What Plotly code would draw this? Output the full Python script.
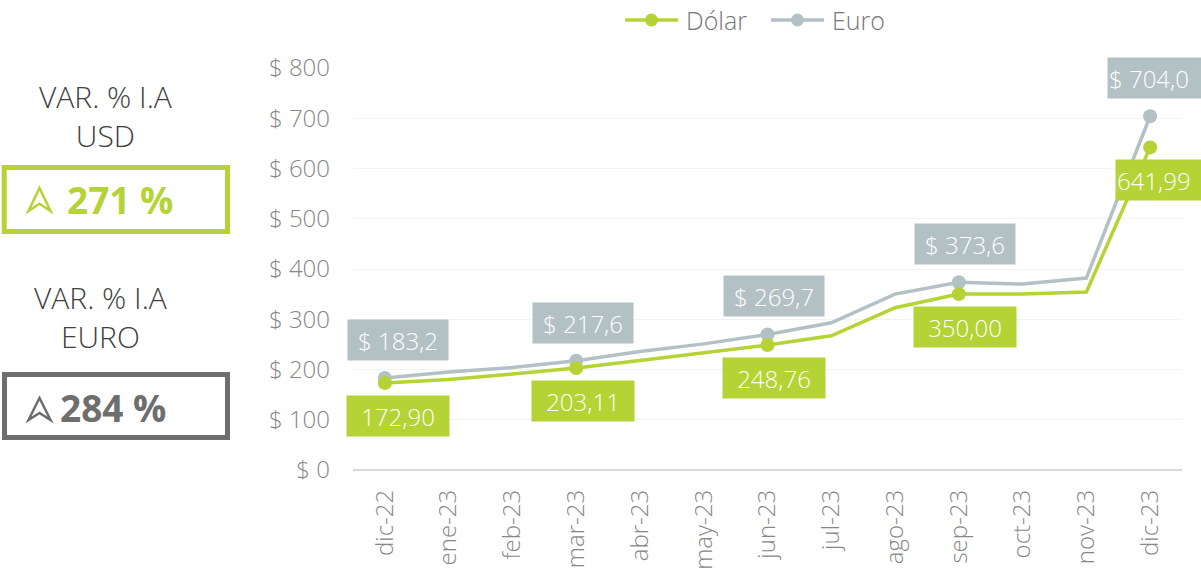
import plotly.graph_objects as go

# ---- data ----
months = ["dic-22", "ene-23", "feb-23", "mar-23", "abr-23", "may-23", "jun-23",
          "jul-23", "ago-23", "sep-23", "oct-23", "nov-23", "dic-23"]
dolar = [172.90, 180, 191, 203.11, 218, 233, 248.76, 267, 323, 350.00, 350, 354, 641.99]
euro = [183.2, 195, 204, 217.6, 236, 251, 269.7, 293, 350, 373.6, 370, 382, 704.0]
label_idx = [0, 3, 6, 9, 12]
dolar_labels = ["172,90", "203,11", "248,76", "350,00", "641,99"]
euro_labels = ["$ 183,2", "$ 217,6", "$ 269,7", "$ 373,6", "$ 704,0"]
y_ticks = [0, 100, 200, 300, 400, 500, 600, 700, 800]
series_names = ["Dólar", "Euro"]
var_usd = "271 %"
var_eur = "284 %"

GREEN = "#B5D334"
GREY = "#B3C1C5"
DARK = "#6E6E6E"
FONT = "Open Sans"

W, H = 1201, 572
L, R, T, B = 353, 19, 68, 102
PW, PH = W - L - R, H - T - B


def px(x):
    return (x - L) / PW


def py(y):
    return (H - B - y) / PH


fig = go.Figure()
fig.add_trace(go.Scatter(x=months, y=dolar, name=series_names[0], mode="lines",
                         line=dict(color=GREEN, width=3.5), showlegend=False))
fig.add_trace(go.Scatter(x=months, y=euro, name=series_names[1], mode="lines",
                         line=dict(color=GREY, width=3.5), showlegend=False))
# markers at labelled points
fig.add_trace(go.Scatter(x=[months[i] for i in label_idx], y=[euro[i] for i in label_idx],
                         mode="markers", marker=dict(color=GREY, size=14), showlegend=False))
fig.add_trace(go.Scatter(x=[months[i] for i in label_idx], y=[dolar[i] for i in label_idx],
                         mode="markers", marker=dict(color=GREEN, size=14), showlegend=False))

annotations = []
xshifts = [13, 7, 6, 6]
for k, i in enumerate(label_idx):
    last = (k == len(label_idx) - 1)
    e = dict(x=months[i], y=euro[i], text=euro_labels[k], showarrow=False,
             yshift=38, bgcolor=GREY, width=98, height=38,
             font=dict(family=FONT, size=24, color="white", weight=300))
    d = dict(x=months[i], y=dolar[i], text=dolar_labels[k], showarrow=False,
             yshift=-33, bgcolor=GREEN, width=100, height=38,
             font=dict(family=FONT, size=24, color="white", weight=300))
    if last:
        e.update(xanchor="left", xshift=-43, align="left", width=110)
        d.update(xanchor="left", xshift=-35, align="left", width=100)
    else:
        e.update(xshift=xshifts[k])
        d.update(xshift=xshifts[k])
    annotations += [e, d]

# legend (drawn manually to match symbol length)
legend_items = [(series_names[0], GREEN, 625, 684), (series_names[1], GREY, 771, 830)]
shapes = []
for name, col, x0, xt in legend_items:
    shapes.append(dict(type="line", xref="paper", yref="paper", x0=px(x0), x1=px(x0 + 53),
                       y0=py(20), y1=py(20), line=dict(color=col, width=3.5)))
    shapes.append(dict(type="circle", xref="paper", yref="paper",
                       x0=px(x0 + 20), x1=px(x0 + 33), y0=py(26.5), y1=py(13.5),
                       fillcolor=col, line=dict(color=col, width=0)))
    annotations.append(dict(xref="paper", yref="paper", x=px(xt), y=py(20), text=name,
                            showarrow=False, xanchor="left", yanchor="middle",
                            font=dict(family=FONT, size=25, color="#767676", weight=300)))

# left-side panels
annotations += [
    dict(xref="paper", yref="paper", x=px(106), y=py(116), text="VAR. % I.A<br>USD",
         showarrow=False, xanchor="center", yanchor="middle", align="center",
         font=dict(family=FONT, size=30, color="#3F3F3F", weight=300)),
    dict(xref="paper", yref="paper", x=px(100), y=py(317), text="VAR. % I.A<br>EURO",
         showarrow=False, xanchor="center", yanchor="middle", align="center",
         font=dict(family=FONT, size=30, color="#3F3F3F", weight=300)),
    dict(xref="paper", yref="paper", x=px(65), y=py(200), text=f"<b>{var_usd}</b>",
         showarrow=False, xanchor="left", yanchor="middle",
         font=dict(family=FONT, size=37, color=GREEN)),
    dict(xref="paper", yref="paper", x=px(58), y=py(407), text=f"<b>{var_eur}</b>",
         showarrow=False, xanchor="left", yanchor="middle",
         font=dict(family=FONT, size=37, color=DARK)),
]


def arrow_path(cx, top, bottom, half):
    notch = top + (bottom - top) * 0.68
    return (f"M {px(cx)} {py(top)} L {px(cx + half)} {py(bottom)} "
            f"L {px(cx)} {py(notch)} L {px(cx - half)} {py(bottom)} Z")


shapes += [
    dict(type="rect", xref="paper", yref="paper", x0=px(4.2), x1=px(227.5),
         y0=py(167.5), y1=py(231.5), line=dict(color=GREEN, width=5)),
    dict(type="rect", xref="paper", yref="paper", x0=px(4.5), x1=px(227.5),
         y0=py(374.5), y1=py(437.5), line=dict(color=DARK, width=5)),
    dict(type="path", xref="paper", yref="paper", path=arrow_path(39.5, 188, 211, 11),
         line=dict(color=GREEN, width=2.5), fillcolor="rgba(0,0,0,0)"),
    dict(type="path", xref="paper", yref="paper", path=arrow_path(39.5, 398, 420, 11),
         line=dict(color=DARK, width=2.5), fillcolor="rgba(0,0,0,0)"),
]

fig.update_layout(
    width=W, height=H, margin=dict(l=L, r=R, t=T, b=B, autoexpand=False),
    paper_bgcolor="white", plot_bgcolor="white",
    font=dict(family=FONT, size=24, color="#878787"),
    showlegend=False,
    annotations=annotations, shapes=shapes,
    xaxis=dict(type="category", categoryorder="array", categoryarray=months,
               range=[-0.5, len(months) - 0.5], tickangle=-90,
               showgrid=False, showline=False, zeroline=False, ticks="",
               ticklabelstandoff=14,
               tickfont=dict(family=FONT, size=24, color="#878787", weight=300)),
    yaxis=dict(range=[0, 800], tickvals=y_ticks, ticktext=[f"$ {v}" for v in y_ticks],
               showgrid=True, gridcolor="#F2F2F2", gridwidth=1,
               zeroline=True, zerolinecolor="#D9D9D9", zerolinewidth=2,
               showline=False, ticks="", ticklabelstandoff=22,
               tickfont=dict(family=FONT, size=24, color="#878787", weight=300)),
)

fig.write_html("out.html", config={"displayModeBar": False},
               post_script="document.body.style.margin='0';document.body.style.overflow='hidden';")
